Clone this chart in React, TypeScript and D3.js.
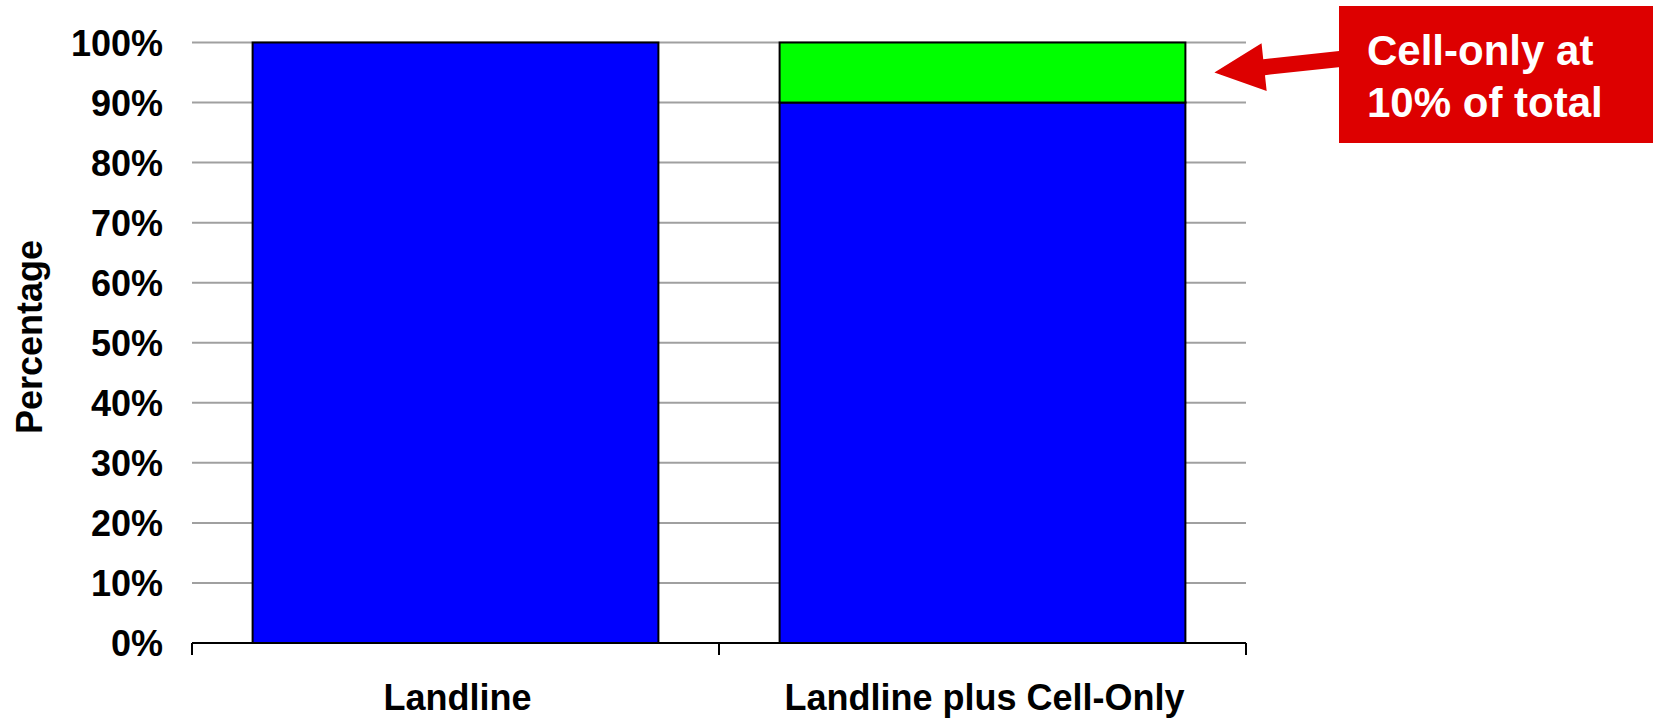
import { scaleBand, scaleLinear, stack } from 'd3';

const categories = ['Landline', 'Landline plus Cell-Only'];
const landlineShare = [100, 90];
const cellOnlyShare = [0, 10];
const yTicks = [0, 10, 20, 30, 40, 50, 60, 70, 80, 90, 100];
const seriesKeys = ['landline', 'cellOnly'] as const;
const seriesColors = ['#0000ff', '#00ff00'];
const calloutLines = ['Cell-only at', '10% of total'];

const width = 1653;
const height = 718;
const margin = { top: 42.5, right: 407, bottom: 75, left: 192 };
const font = '"Liberation Sans", Arial, sans-serif';

type Row = { category: string; landline: number; cellOnly: number };

export default function App() {
  const rows: Row[] = categories.map((category, i) => ({
    category,
    landline: landlineShare[i],
    cellOnly: cellOnlyShare[i],
  }));

  const xScale = scaleBand<string>()
    .domain(categories)
    .range([margin.left, width - margin.right])
    .paddingInner(0.23)
    .paddingOuter(0.115);

  const yScale = scaleLinear()
    .domain([0, 100])
    .range([height - margin.bottom, margin.top]);

  const layers = stack<Row>().keys(seriesKeys as unknown as string[])(rows);

  const baseY = yScale(0);
  const step = xScale.step();
  const bandEdges = [0, 1, 2].map(i => margin.left + i * step);

  // callout arrow: from the box toward the cell-only slice
  const lastBand = categories[categories.length - 1];
  const tip = { x: (xScale(lastBand) ?? 0) + xScale.bandwidth() + 29, y: yScale(95) };
  const tail = { x: 1340, y: 59 };
  const dx = tip.x - tail.x;
  const dy = tip.y - tail.y;
  const len = Math.hypot(dx, dy);
  const ux = dx / len;
  const uy = dy / len;
  const nx = -uy;
  const ny = ux;
  const headLen = 50;
  const headHalf = 24;
  const shaftHalf = 8;
  const hb = { x: tip.x - ux * headLen, y: tip.y - uy * headLen };
  const arrowPoints = [
    [tail.x + nx * shaftHalf, tail.y + ny * shaftHalf],
    [hb.x + nx * shaftHalf, hb.y + ny * shaftHalf],
    [hb.x + nx * headHalf, hb.y + ny * headHalf],
    [tip.x, tip.y],
    [hb.x - nx * headHalf, hb.y - ny * headHalf],
    [hb.x - nx * shaftHalf, hb.y - ny * shaftHalf],
    [tail.x - nx * shaftHalf, tail.y - ny * shaftHalf],
  ]
    .map(p => p.join(','))
    .join(' ');

  return (
    <div style={{ position: 'absolute', left: 0, top: 0 }}>
      <svg width={width} height={height} viewBox={`0 0 ${width} ${height}`} style={{ display: 'block', background: '#ffffff' }}>
        {yTicks.map(tick => (
          <g key={tick}>
            {tick > 0 && (
              <line x1={margin.left} x2={width - margin.right} y1={yScale(tick)} y2={yScale(tick)} stroke="#a0a0a0" strokeWidth={2} />
            )}
            <text
              x={163}
              y={yScale(tick) + 13}
              textAnchor="end"
              fontFamily={font}
              fontWeight="bold"
              fontSize={36}
              fill="#000000"
            >
              {tick}%
            </text>
          </g>
        ))}

        {layers.map((layer, li) =>
          layer.map(d => {
            const h = yScale(d[0]) - yScale(d[1]);
            if (h <= 0) return null;
            return (
              <rect
                key={`${layer.key}-${d.data.category}`}
                x={xScale(d.data.category)}
                y={yScale(d[1])}
                width={xScale.bandwidth()}
                height={h}
                fill={seriesColors[li]}
                stroke="#000000"
                strokeWidth={2}
              />
            );
          })
        )}

        <line x1={margin.left} x2={width - margin.right} y1={baseY} y2={baseY} stroke="#000000" strokeWidth={2} />
        {bandEdges.map(x => (
          <line key={x} x1={x} x2={x} y1={baseY} y2={baseY + 12} stroke="#000000" strokeWidth={2} />
        ))}

        {categories.map(category => (
          <text
            key={category}
            x={(xScale(category) ?? 0) + xScale.bandwidth() / 2 + 2}
            y={710}
            textAnchor="middle"
            fontFamily={font}
            fontWeight="bold"
            fontSize={36}
            fill="#000000"
          >
            {category}
          </text>
        ))}

        <text
          transform={`translate(42, 337) rotate(-90)`}
          textAnchor="middle"
          fontFamily={font}
          fontWeight="bold"
          fontSize={36}
          fill="#000000"
        >
          Percentage
        </text>

        <rect x={1339} y={6} width={width - 1339} height={137} fill="#dd0000" />
        {calloutLines.map((lineText, i) => (
          <text
            key={lineText}
            x={1367}
            y={65 + i * 52}
            fontFamily={font}
            fontWeight="bold"
            fontSize={42}
            fill="#ffffff"
          >
            {lineText}
          </text>
        ))}
        <polygon points={arrowPoints} fill="#dd0000" />
      </svg>
    </div>
  );
}
